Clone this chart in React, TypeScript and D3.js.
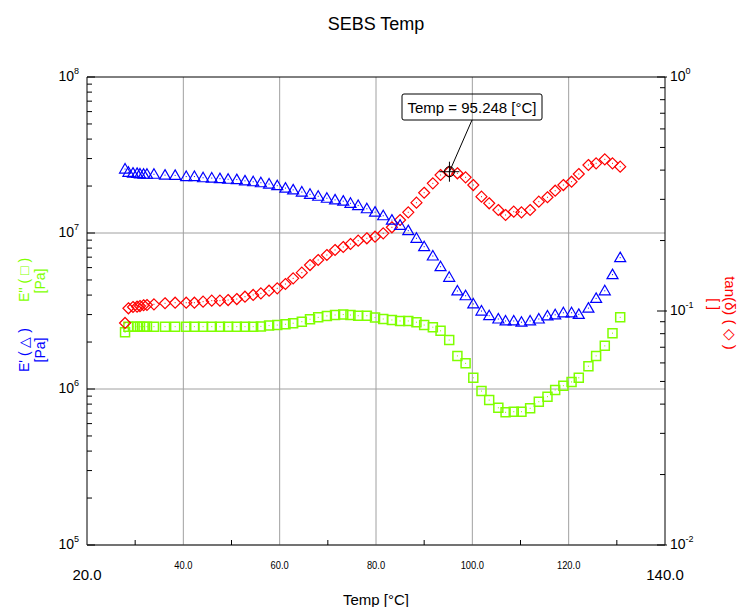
import React from "react";
import * as d3 from "d3";

const temps = [27.9, 28.6, 29.55, 30.4, 31.0, 31.75, 32.45, 33.9, 36.2, 38.3, 40.6, 42.3, 44.1, 45.9, 47.6, 49.3, 51.1, 52.8, 54.5, 56.1, 57.8, 59.5, 61.2, 62.8, 64.6, 66.3, 68.0, 69.8, 71.5, 73.2, 74.7, 76.3, 78.1, 79.8, 81.5, 83.3, 85.0, 86.7, 88.4, 90.0, 91.8, 93.4, 95.2, 96.9, 98.6, 100.2, 101.9, 103.5, 105.4, 106.9, 108.6, 110.2, 112.0, 113.8, 115.6, 117.2, 118.9, 120.6, 122.1, 124.1, 125.7, 127.5, 129.1, 130.7];

const storageModulus = [2.57e7, 2.45e7, 2.42e7, 2.41e7, 2.39e7, 2.38e7, 2.38e7, 2.38e7, 2.35e7, 2.34e7, 2.30e7, 2.30e7, 2.26e7, 2.25e7, 2.23e7, 2.21e7, 2.20e7, 2.16e7, 2.13e7, 2.10e7, 2.06e7, 2.01e7, 1.94e7, 1.89e7, 1.83e7, 1.77e7, 1.72e7, 1.67e7, 1.63e7, 1.60e7, 1.55e7, 1.50e7, 1.43e7, 1.36e7, 1.29e7, 1.21e7, 1.12e7, 1.035e7, 9.25e6, 8.17e6, 7.12e6, 6.08e6, 5.20e6, 4.25e6, 3.96e6, 3.51e6, 3.16e6, 2.95e6, 2.81e6, 2.73e6, 2.73e6, 2.68e6, 2.73e6, 2.81e6, 2.94e6, 2.99e6, 3.08e6, 3.08e6, 3.01e6, 3.30e6, 3.81e6, 4.26e6, 5.41e6, 6.95e6];

const lossModulus = [2.31e6, 2.51e6, 2.51e6, 2.51e6, 2.51e6, 2.51e6, 2.51e6, 2.51e6, 2.51e6, 2.51e6, 2.51e6, 2.51e6, 2.51e6, 2.51e6, 2.51e6, 2.51e6, 2.51e6, 2.51e6, 2.51e6, 2.52e6, 2.55e6, 2.57e6, 2.60e6, 2.64e6, 2.70e6, 2.80e6, 2.88e6, 2.94e6, 2.98e6, 3.00e6, 2.98e6, 2.95e6, 2.95e6, 2.87e6, 2.81e6, 2.77e6, 2.73e6, 2.73e6, 2.68e6, 2.57e6, 2.49e6, 2.36e6, 2.06e6, 1.63e6, 1.46e6, 1.18e6, 9.70e5, 8.49e5, 7.58e5, 7.09e5, 7.15e5, 7.15e5, 7.52e5, 8.29e5, 8.93e5, 9.86e5, 1.05e6, 1.11e6, 1.18e6, 1.40e6, 1.63e6, 1.89e6, 2.28e6, 2.88e6];

const tanDelta = [0.0889, 0.1027, 0.1040, 0.1043, 0.1050, 0.1058, 0.1061, 0.1068, 0.1079, 0.1085, 0.1085, 0.1085, 0.1096, 0.1107, 0.1107, 0.1114, 0.1125, 0.1151, 0.1171, 0.1190, 0.1221, 0.1250, 0.1304, 0.1379, 0.1458, 0.1572, 0.1652, 0.1735, 0.1823, 0.1877, 0.1933, 0.1998, 0.2045, 0.2077, 0.2148, 0.2279, 0.2448, 0.2641, 0.2903, 0.3202, 0.3512, 0.3813, 0.3938, 0.3877, 0.3727, 0.3454, 0.3080, 0.2886, 0.2702, 0.2572, 0.2657, 0.2641, 0.2702, 0.2932, 0.3062, 0.3266, 0.3454, 0.3569, 0.3850, 0.4206, 0.4277, 0.4448, 0.4277, 0.4137];

const xGrid = [40, 60, 80, 100, 120];
const xMinor = [30, 50, 70, 90, 110, 130];
const xInnerLabels = ["40.0", "60.0", "80.0", "100.0", "120.0"];
const leftDecades = [5, 6, 7, 8];
const rightDecades = [-2, -1, 0];
const cursorTemp = 95.248;
const cursorTan = 0.3938;

const W = 738, H = 607;
const L = 87, R = 665, T = 77, B = 545;
const FONT = "'Liberation Sans', Arial, sans-serif";
const BLUE = "#0000ff", GREEN = "#7fff00", RED = "#ff0000";

export default function App() {
  const x = d3.scaleLinear().domain([20, 140]).range([L, R]);
  const yL = d3.scaleLog().domain([1e5, 1e8]).range([B, T]);
  const yR = d3.scaleLog().domain([1e-2, 1]).range([B, T]);

  const leftMinor: number[] = [];
  for (let d = 5; d < 8; d++) for (let m = 2; m <= 9; m++) leftMinor.push(m * Math.pow(10, d));
  const rightMinor: number[] = [];
  for (let d = -2; d < 0; d++) for (let m = 2; m <= 9; m++) rightMinor.push(m * Math.pow(10, d));

  const tri = (cx: number, cy: number) => `M${cx},${cy - 5.5}L${cx + 5.5},${cy + 4}L${cx - 5.5},${cy + 4}Z`;
  const sq = (cx: number, cy: number) => `M${cx - 4.5},${cy - 4.5}h9v9h-9Z`;
  const dia = (cx: number, cy: number) => `M${cx},${cy - 5.5}L${cx + 5.5},${cy}L${cx},${cy + 5.5}L${cx - 5.5},${cy}Z`;

  const cx0 = x(cursorTemp), cy0 = yR(cursorTan);

  return (
    <svg width={W} height={H} style={{ position: "absolute", left: 0, top: 0, background: "#fff" }} fontFamily={FONT}>
      <rect x={0} y={0} width={W} height={H} fill="#fff" />
      <text x={376} y={30} textAnchor="middle" fontSize={18}>SEBS Temp</text>

      {/* grid */}
      {xGrid.map((g) => (
        <line key={"gx" + g} x1={x(g)} x2={x(g)} y1={T} y2={B} stroke="#a0a0a0" strokeWidth={1} />
      ))}
      {[1e6, 1e7].map((g) => (
        <line key={"gy" + g} x1={L} x2={R} y1={yL(g)} y2={yL(g)} stroke="#a0a0a0" strokeWidth={1} />
      ))}

      {/* frame */}
      <line x1={L} x2={R} y1={T} y2={T} stroke="#000" />
      <line x1={L} x2={L} y1={T} y2={B} stroke="#000" />
      <line x1={R} x2={R} y1={T} y2={B} stroke="#000" />
      <line x1={L} x2={R} y1={B} y2={B} stroke="#444" strokeWidth={1.6} />

      {/* ticks */}
      {xMinor.map((t) => (
        <line key={"xm" + t} x1={x(t)} x2={x(t)} y1={B} y2={B - 5} stroke="#000" />
      ))}
      {leftMinor.map((t, i) => (
        <line key={"lm" + i} x1={L} x2={L + 5} y1={yL(t)} y2={yL(t)} stroke="#000" />
      ))}
      {leftDecades.map((d) => (
        <line key={"lM" + d} x1={L} x2={L + 8} y1={yL(Math.pow(10, d))} y2={yL(Math.pow(10, d))} stroke="#000" />
      ))}
      {rightMinor.map((t, i) => (
        <line key={"rm" + i} x1={R} x2={R - 5} y1={yR(t)} y2={yR(t)} stroke="#000" />
      ))}
      {rightDecades.map((d) => (
        <line key={"rM" + d} x1={R + 2} x2={R - 8} y1={yR(Math.pow(10, d))} y2={yR(Math.pow(10, d))} stroke="#000" />
      ))}

      {/* tick labels */}
      {leftDecades.map((d) => (
        <text key={"ll" + d} x={L - 8} y={yL(Math.pow(10, d)) + 4} textAnchor="end" fontSize={14}>
          10<tspan fontSize={9} dy={-7}>{d}</tspan>
        </text>
      ))}
      {rightDecades.map((d) => (
        <text key={"rl" + d} x={R + 5} y={yR(Math.pow(10, d)) + 4} textAnchor="start" fontSize={14}>
          10<tspan fontSize={9} dy={-7}>{d}</tspan>
        </text>
      ))}
      {xGrid.map((g, i) => (
        <text key={"xl" + g} x={x(g)} y={569} textAnchor="middle" fontSize={11} transform={`translate(${x(g)},0) scale(0.85,1) translate(${-x(g)},0)`}>
          {xInnerLabels[i]}
        </text>
      ))}
      <text x={x(20)} y={580} textAnchor="middle" fontSize={15}>20.0</text>
      <text x={x(140)} y={580} textAnchor="middle" fontSize={15}>140.0</text>
      <text x={376} y={605} textAnchor="middle" fontSize={15}>Temp [°C]</text>

      {/* axis titles */}
      <text transform="translate(29,350) rotate(-90)" textAnchor="middle" fontSize={14} fill={BLUE}>E' ( △ )</text>
      <text transform="translate(45,350) rotate(-90)" textAnchor="middle" fontSize={14} fill={BLUE}>[Pa]</text>
      <text transform="translate(29,280) rotate(-90)" textAnchor="middle" fontSize={14} fill={GREEN}>E'' ( □ )</text>
      <text transform="translate(45,281) rotate(-90)" textAnchor="middle" fontSize={14} fill={GREEN}>[Pa]</text>
      <text transform="translate(725,313) rotate(90)" textAnchor="middle" fontSize={15} fill={RED}>tan(δ) ( ◇ )</text>
      <text transform="translate(709,304) rotate(90)" textAnchor="middle" fontSize={14} fill={RED}>[ ]</text>

      {/* series */}
      <g fill="none" strokeWidth={1.2}>
        {temps.map((t, i) => (
          <g key={"s" + i}>
            <path d={sq(x(t), yL(lossModulus[i]))} stroke={GREEN} strokeWidth={1.5} />
            <rect x={x(t) - 0.5} y={yL(lossModulus[i]) - 0.5} width={1} height={1} fill={GREEN} stroke="none" />
          </g>
        ))}
        {temps.map((t, i) => (
          <g key={"d" + i}>
            <path d={dia(x(t), yR(tanDelta[i]))} stroke={RED} />
            <rect x={x(t) - 0.5} y={yR(tanDelta[i]) - 0.5} width={1} height={1} fill={RED} stroke="none" />
          </g>
        ))}
        {temps.map((t, i) => (
          <g key={"t" + i}>
            <path d={tri(x(t), yL(storageModulus[i]))} stroke={BLUE} />
            <rect x={x(t) - 0.5} y={yL(storageModulus[i]) - 0.5} width={1} height={1} fill={BLUE} stroke="none" />
          </g>
        ))}
      </g>

      {/* cursor annotation */}
      <circle cx={cx0} cy={cy0} r={5} fill="none" stroke="#000" strokeWidth={1} />
      <line x1={cx0 - 10} x2={cx0 + 10} y1={cy0} y2={cy0} stroke="#000" />
      <line x1={cx0} x2={cx0} y1={cy0 - 10} y2={cy0 + 10} stroke="#000" />
      <line x1={cx0} y1={cy0} x2={472} y2={120} stroke="#000" />
      <rect x={402} y={94} width={140} height={26} rx={2} fill="none" stroke="#000" />
      <text x={472} y={113} textAnchor="middle" fontSize={15}>Temp = 95.248 [°C]</text>
    </svg>
  );
}
